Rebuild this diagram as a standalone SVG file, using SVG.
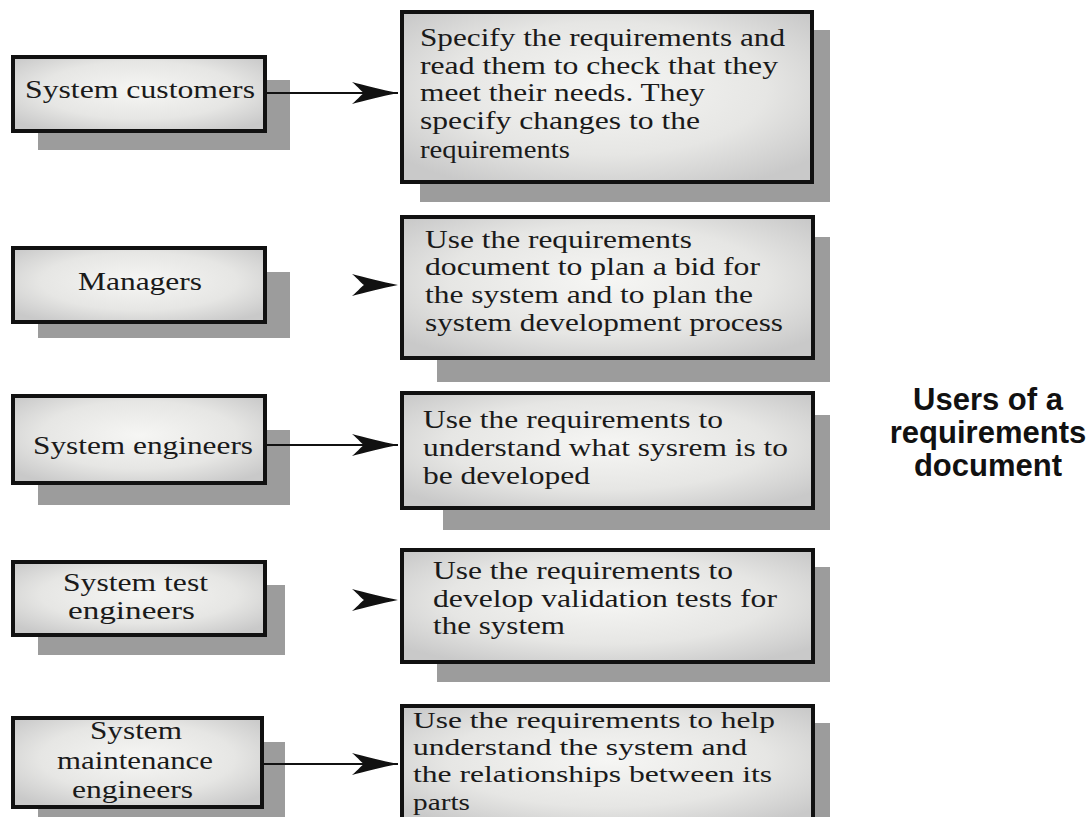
<svg xmlns="http://www.w3.org/2000/svg" width="1090" height="817" viewBox="0 0 1090 817">
<style>
.bg{fill:#ffffff}
.shadow{fill:#9c9c9c}
.box{fill:url(#boxfill);stroke:#111;stroke-width:4}
.t{font-family:"Liberation Serif","Times New Roman",serif;font-size:26px;fill:#1a1a1a}
.s{font-size:24px}
.title{font-family:"Liberation Sans",Arial,sans-serif;font-size:31px;font-weight:bold;fill:#111;text-anchor:middle}
.conn{stroke:#111;stroke-width:2;fill:none}
</style>
<defs>
<radialGradient id="boxfill" cx="50%" cy="45%" r="65%">
<stop offset="0" stop-color="#f6f6f4"/>
<stop offset="0.6" stop-color="#e6e6e4"/>
<stop offset="1" stop-color="#c9c9c9"/>
</radialGradient>
<marker id="head" markerUnits="userSpaceOnUse" viewBox="-48 -12 50 24" refX="0" refY="0" markerWidth="50" markerHeight="24" orient="auto">
<path d="M0,0 C-15,-3 -35,-8 -46,-11 C-39,-5 -37,-2 -34,0 C-37,2 -39,5 -46,11 C-35,8 -15,3 0,0 Z" fill="#111"/>
</marker>
</defs>
<rect class="bg" x="0" y="0" width="1090" height="817"/>

<g id="customers">
<rect class="shadow" x="38" y="80" width="252" height="70"/>
<rect class="box" x="13" y="57" width="252" height="74"/>
<text class="t" x="25" y="98" textLength="230" lengthAdjust="spacingAndGlyphs">System customers</text>
</g>
<g id="managers">
<rect class="shadow" x="38" y="272" width="252" height="66"/>
<rect class="box" x="13" y="248" width="252" height="74"/>
<text class="t" x="78" y="290" textLength="124" lengthAdjust="spacingAndGlyphs">Managers</text>
</g>
<g id="sysengineers">
<rect class="shadow" x="38" y="430" width="252" height="75"/>
<rect class="box" x="13" y="396" width="252" height="87"/>
<text class="t" x="33" y="454" textLength="220" lengthAdjust="spacingAndGlyphs">System engineers</text>
</g>
<g id="testengineers">
<rect class="shadow" x="38" y="585" width="247" height="70"/>
<rect class="box" x="13" y="562" width="252" height="73"/>
<text class="t" x="63" y="591" textLength="145" lengthAdjust="spacingAndGlyphs">System test</text>
<text class="t" x="68" y="619" textLength="127" lengthAdjust="spacingAndGlyphs">engineers</text>
</g>
<g id="maintengineers">
<rect class="shadow" x="38" y="742" width="247" height="80"/>
<rect class="box" x="13" y="718" width="249" height="89"/>
<text class="t" x="90" y="739" textLength="92" lengthAdjust="spacingAndGlyphs">System</text>
<text class="t" x="57" y="769" textLength="156" lengthAdjust="spacingAndGlyphs">maintenance</text>
<text class="t" x="72" y="798" textLength="121" lengthAdjust="spacingAndGlyphs">engineers</text>
</g>

<g id="use-customers">
<rect class="shadow" x="420" y="30" width="410" height="172"/>
<rect class="box" x="402" y="12" width="410" height="170"/>
<text class="t" x="420" y="46" textLength="365" lengthAdjust="spacingAndGlyphs">Specify the requirements and</text>
<text class="t" x="420" y="74" textLength="358" lengthAdjust="spacingAndGlyphs">read them to check that they</text>
<text class="t" x="420" y="101" textLength="285" lengthAdjust="spacingAndGlyphs">meet their needs. They</text>
<text class="t" x="420" y="129" textLength="280" lengthAdjust="spacingAndGlyphs">specify changes to the</text>
<text class="t" x="420" y="158" textLength="150" lengthAdjust="spacingAndGlyphs">requirements</text>
</g>
<g id="use-managers">
<rect class="shadow" x="437" y="237" width="393" height="145"/>
<rect class="box" x="402" y="217" width="411" height="141"/>
<text class="t" x="425" y="248" textLength="267" lengthAdjust="spacingAndGlyphs">Use the requirements</text>
<text class="t" x="425" y="275" textLength="335" lengthAdjust="spacingAndGlyphs">document to plan a bid for</text>
<text class="t" x="425" y="303" textLength="328" lengthAdjust="spacingAndGlyphs">the system and to plan the</text>
<text class="t" x="425" y="331" textLength="358" lengthAdjust="spacingAndGlyphs">system development process</text>
</g>
<g id="use-sysengineers">
<rect class="shadow" x="443" y="415" width="387" height="115"/>
<rect class="box" x="402" y="393" width="411" height="115"/>
<text class="t" x="423" y="428" textLength="300" lengthAdjust="spacingAndGlyphs">Use the requirements to</text>
<text class="t" x="423" y="456" textLength="365" lengthAdjust="spacingAndGlyphs">understand what sysrem is to</text>
<text class="t" x="423" y="484" textLength="167" lengthAdjust="spacingAndGlyphs">be developed</text>
</g>
<g id="use-testengineers">
<rect class="shadow" x="437" y="567" width="393" height="115"/>
<rect class="box" x="402" y="550" width="411" height="112"/>
<text class="t" x="433" y="579" textLength="300" lengthAdjust="spacingAndGlyphs">Use the requirements to</text>
<text class="t" x="433" y="607" textLength="344" lengthAdjust="spacingAndGlyphs">develop validation tests for</text>
<text class="t" x="433" y="634" textLength="132" lengthAdjust="spacingAndGlyphs">the system</text>
</g>
<g id="use-maintengineers">
<rect class="shadow" x="420" y="723" width="410" height="100"/>
<rect class="box" x="402" y="706" width="411" height="120"/>
<text class="t s" x="413" y="728" textLength="362" lengthAdjust="spacingAndGlyphs">Use the requirements to help</text>
<text class="t s" x="413" y="755" textLength="334" lengthAdjust="spacingAndGlyphs">understand the system and</text>
<text class="t s" x="413" y="782" textLength="359" lengthAdjust="spacingAndGlyphs">the relationships between its</text>
<text class="t s" x="413" y="810" textLength="57" lengthAdjust="spacingAndGlyphs">parts</text>
</g>

<g id="connectors">
<path class="conn" d="M265,93 L398,93" marker-end="url(#head)"/>
<path d="M350,285 L398,285" stroke="none" fill="none" marker-end="url(#head)"/>
<path class="conn" d="M265,445 L398,445" marker-end="url(#head)"/>
<path d="M350,600 L398,600" stroke="none" fill="none" marker-end="url(#head)"/>
<path class="conn" d="M262,764 L398,764" marker-end="url(#head)"/>
</g>

<g id="title">
<text class="title" x="988" y="410">Users of a</text>
<text class="title" x="988" y="443">requirements</text>
<text class="title" x="988" y="476">document</text>
</g>
</svg>
